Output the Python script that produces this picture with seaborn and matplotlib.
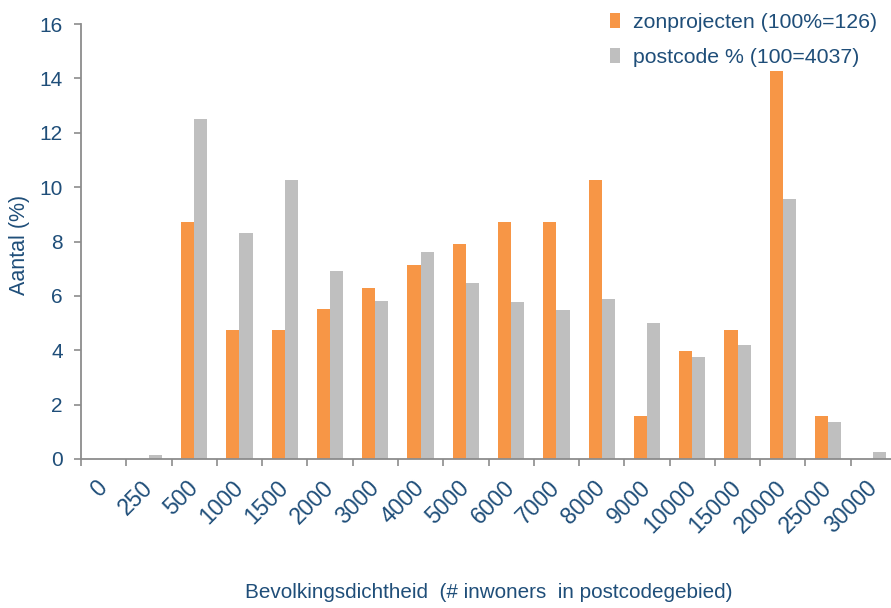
import matplotlib
matplotlib.use("Agg")
import matplotlib.pyplot as plt
from matplotlib.patches import Patch
from matplotlib.ticker import FixedLocator
import seaborn as sns
import pandas as pd

categories = ["0", "250", "500", "1000", "1500", "2000", "3000", "4000", "5000",
              "6000", "7000", "8000", "9000", "10000", "15000", "20000", "25000", "30000"]
zonprojecten = [0, 0, 8.73, 4.76, 4.76, 5.52, 6.30, 7.12, 7.90, 8.70, 8.70, 10.25,
                1.57, 3.96, 4.76, 14.28, 1.58, 0]
postcode = [0, 0.14, 12.5, 8.32, 10.28, 6.90, 5.80, 7.62, 6.48, 5.78, 5.48, 5.87,
            5.0, 3.77, 4.20, 9.56, 1.36, 0.24]
series_names = ["zonprojecten (100%=126)", "postcode % (100=4037)"]
colors = ["#F79646", "#BFBFBF"]
yticks = [0, 2, 4, 6, 8, 10, 12, 14, 16]

text_color = "#1F4E79"
axis_color = "#8C8C8C"

df = pd.DataFrame({
    "cat": categories * 2,
    "value": zonprojecten + postcode,
    "series": [series_names[0]] * len(categories) + [series_names[1]] * len(categories),
})

sns.set_theme(style="white")
plt.rcParams["font.family"] = ["Liberation Sans", "DejaVu Sans"]

fig = plt.figure(figsize=(8.91, 6.08), dpi=100)
ax = fig.add_axes([81 / 891, 149 / 608, 815 / 891, 435 / 608])

sns.barplot(data=df, x="cat", y="value", hue="series", order=categories,
            hue_order=series_names, palette=colors, width=0.58, saturation=1,
            linewidth=0, ax=ax, legend=False)

n = len(categories)
ax.set_xlim(-0.5, n - 0.5)
ax.set_ylim(0, 16)
ax.set_yticks(yticks)
ax.set_yticklabels([str(t) for t in yticks], color=text_color, fontsize=15)

ax.set_xticks(range(n))
ax.set_xticklabels(categories, rotation=45, ha="right", va="center",
                   rotation_mode="anchor", color=text_color, fontsize=16.5)
ax.tick_params(axis="x", which="major", length=0, pad=18)
ax.xaxis.set_minor_locator(FixedLocator([i - 0.5 for i in range(n + 1)]))
ax.tick_params(axis="x", which="minor", length=5, width=1.2, color=axis_color,
               direction="out", bottom=True)
ax.tick_params(axis="y", which="major", length=5, width=1.2, color=axis_color,
               direction="out", left=True, pad=8)

for side in ["top", "right"]:
    ax.spines[side].set_visible(False)
for side in ["left", "bottom"]:
    ax.spines[side].set_color(axis_color)
    ax.spines[side].set_linewidth(1.3)

ax.set_xlabel("")
ax.set_ylabel("")
fig.text(20 / 891, 1 - 245 / 608, "Aantal (%)", rotation=90, ha="center",
         va="center", color=text_color, fontsize=15.5)
fig.text(489 / 891, 1 - 592 / 608,
         "Bevolkingsdichtheid  (# inwoners  in postcodegebied)",
         ha="center", va="center", color=text_color, fontsize=14.9)

handles = [Patch(facecolor=c, edgecolor="none") for c in colors]
fig.legend(handles, series_names, loc="upper left",
           bbox_to_anchor=(591 / 891, 1 + 6 / 608), frameon=False,
           handlelength=0.47, handleheight=0.7, handletextpad=0.6,
           labelspacing=0.75, fontsize=15.3, labelcolor=text_color)

fig.savefig("out.png", dpi=100)
